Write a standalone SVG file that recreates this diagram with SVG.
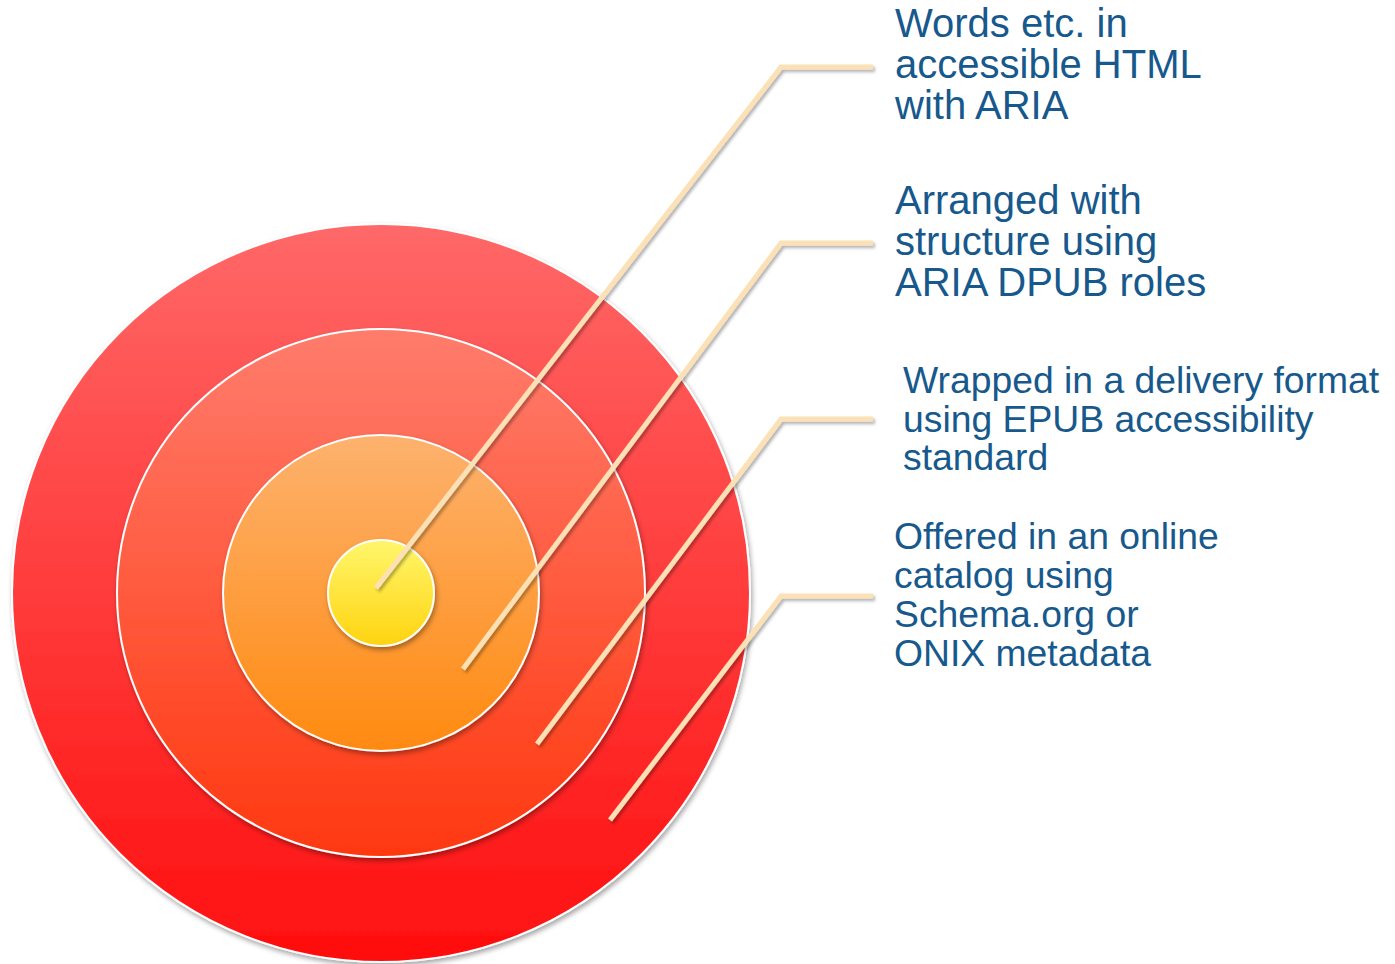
<svg xmlns="http://www.w3.org/2000/svg" width="1395" height="964" viewBox="0 0 1395 964">
<defs>
<linearGradient id="g1" x1="0" y1="0" x2="0" y2="1"><stop offset="0" stop-color="#FF6868"/><stop offset="1" stop-color="#FF0E0E"/></linearGradient>
<linearGradient id="g2" x1="0" y1="0" x2="0" y2="1"><stop offset="0" stop-color="#FF7C6C"/><stop offset="1" stop-color="#FF3810"/></linearGradient>
<linearGradient id="g3" x1="0" y1="0" x2="0" y2="1"><stop offset="0" stop-color="#FDB26E"/><stop offset="1" stop-color="#FF8A10"/></linearGradient>
<linearGradient id="g4" x1="0" y1="0" x2="0" y2="1"><stop offset="0" stop-color="#FFF66C"/><stop offset="1" stop-color="#FFD410"/></linearGradient>
<filter id="sh" x="-20%" y="-20%" width="140%" height="140%"><feDropShadow dx="1.5" dy="3" stdDeviation="2.5" flood-color="#000" flood-opacity="0.35"/></filter>
<filter id="lsh" x="-20%" y="-20%" width="140%" height="140%"><feDropShadow dx="2" dy="2.5" stdDeviation="1.5" flood-color="#000" flood-opacity="0.3"/></filter>
<style>
.ring{stroke:#FFFFFF;stroke-width:2;filter:url(#sh)}
.conn{fill:none;stroke:#FDE1B6;stroke-width:5;stroke-linejoin:miter;filter:url(#lsh)}
.lbl{font-family:"Liberation Sans",Arial,sans-serif;fill:#17598C}
.big{font-size:40px}
.small{font-size:37.3px}
</style>
</defs>
<rect width="1395" height="964" fill="#FFFFFF"/>
<g id="ring-outer"><circle class="ring" cx="381" cy="593" r="369" fill="url(#g1)"/></g>
<g id="ring-2"><circle class="ring" cx="381" cy="593" r="264" fill="url(#g2)"/></g>
<g id="ring-3"><circle class="ring" cx="381" cy="593" r="158" fill="url(#g3)"/></g>
<g id="ring-inner"><circle class="ring" cx="381" cy="593" r="53" fill="url(#g4)"/></g>
<g id="connectors">
<polyline class="conn" points="376,588 781,67 873,67"/>
<polyline class="conn" points="463,669 781,243 873,243"/>
<polyline class="conn" points="537,744 781,419 873,419"/>
<polyline class="conn" points="610,820 781,596 873,596"/>
</g>
<g id="label-1"><text class="lbl big" x="895" y="37">Words etc. in</text><text class="lbl big" x="895" y="78">accessible HTML</text><text class="lbl big" x="895" y="119">with ARIA</text></g>
<g id="label-2"><text class="lbl big" x="895" y="214">Arranged with</text><text class="lbl big" x="895" y="255">structure using</text><text class="lbl big" x="895" y="296">ARIA DPUB roles</text></g>
<g id="label-3"><text class="lbl small" x="903" y="393">Wrapped in a delivery format</text><text class="lbl small" x="903" y="432">using EPUB accessibility</text><text class="lbl small" x="903" y="470">standard</text></g>
<g id="label-4"><text class="lbl small" x="894" y="549">Offered in an online</text><text class="lbl small" x="894" y="588">catalog using</text><text class="lbl small" x="894" y="627">Schema.org or</text><text class="lbl small" x="894" y="666">ONIX metadata</text></g>
</svg>
